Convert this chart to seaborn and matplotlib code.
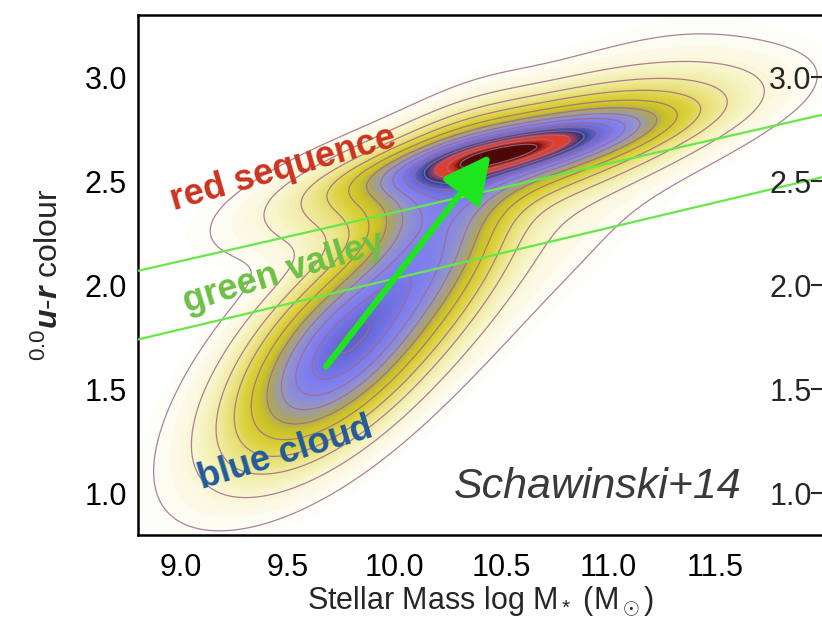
import numpy as np
import matplotlib
matplotlib.use("Agg")
import matplotlib.pyplot as plt
from matplotlib.colors import LinearSegmentedColormap
import seaborn as sns
import pandas as pd

# ---------------- data ----------------
# density components: centre, slope of major axis, widths, amplitude
comp_names = ["red core", "red halo", "blue cloud", "bridge", "envelope"]
comp_mx = [10.55, 10.55, 9.76, 10.20, 10.25]
comp_my = [2.645, 2.63, 1.70, 2.25, 2.10]
comp_slope = [0.22, 0.28, 1.05, 1.60, 0.85]
comp_sig_a = [0.38, 0.55, 0.38, 0.30, 0.85]
comp_sig_b = [0.065, 0.13, 0.18, 0.17, 0.24]
comp_amp = [0.55, 0.45, 0.62, 0.33, 0.06]

contour_levels = [0.012, 0.04, 0.085, 0.14, 0.21, 0.29, 0.37, 0.45, 0.53, 0.61, 0.69, 0.77, 0.85, 0.92]

# green valley boundaries (log M, u-r)
gv_x = [8.8, 12.0]
gv_upper = [2.07, 2.82]
gv_lower = [1.74, 2.52]

# arrow blue cloud -> red sequence
arrow_start = (9.68, 1.61)
arrow_end = (10.45, 2.63)

xticks = [9.0, 9.5, 10.0, 10.5, 11.0, 11.5]
yticks = [1.0, 1.5, 2.0, 2.5, 3.0]
xlim = (8.8, 12.0)
ylim = (0.8, 3.3)

# ---------------- style ----------------
sns.set_style("ticks")
plt.rcParams["font.family"] = ["Liberation Sans", "DejaVu Sans"]
plt.rcParams["mathtext.fontset"] = "custom"
plt.rcParams["mathtext.rm"] = "Liberation Sans"
plt.rcParams["mathtext.it"] = "Liberation Sans:italic"
plt.rcParams["mathtext.bf"] = "Liberation Sans:bold"
plt.rcParams["mathtext.bfit"] = "Liberation Sans:italic:bold"

fig = plt.figure(figsize=(8.22, 6.19), dpi=100)
ax = fig.add_axes([138 / 822, 84 / 619, 1 - 138 / 822, 520 / 619])

# ---------------- density field ----------------
gx = np.linspace(xlim[0], xlim[1], 420)
gy = np.linspace(ylim[0], ylim[1], 340)
X, Y = np.meshgrid(gx, gy)
Z = np.zeros_like(X)
for mx, my, s, sa, sb, a in zip(comp_mx, comp_my, comp_slope, comp_sig_a, comp_sig_b, comp_amp):
    n = np.hypot(1, s)
    dx, dy = X - mx, Y - my
    ua = (dx + s * dy) / n
    ub = (-s * dx + dy) / n
    Z += a * np.exp(-0.5 * ((ua / sa) ** 2 + (ub / sb) ** 2))
Z = Z / Z.max()

stops = [
    (0.00, "#ffffff"), (0.012, "#fefdf4"), (0.05, "#f7f4c8"), (0.11, "#ebe488"),
    (0.18, "#d9d03a"), (0.25, "#cbc226"), (0.31, "#aba462"), (0.37, "#9a9ab4"),
    (0.44, "#8888e4"), (0.52, "#7c7cf0"), (0.60, "#6a6ad8"), (0.66, "#4854b0"),
    (0.71, "#26397e"), (0.75, "#8a3a6a"), (0.79, "#dc4030"), (0.86, "#e23c28"),
    (0.90, "#b02818"), (0.92, "#560a08"), (1.00, "#4a0806"),
]
cmap = LinearSegmentedColormap.from_list("sch", stops)
ax.contourf(X, Y, Z, levels=np.linspace(0, 1.0001, 150), cmap=cmap, vmin=0, vmax=1, zorder=1)
ax.contour(X, Y, Z, levels=contour_levels, colors="#a06a88", linewidths=0.9, alpha=0.85, zorder=2)

# ---------------- green valley lines ----------------
gv_df = pd.DataFrame({"x": gv_x + gv_x, "y": gv_upper + gv_lower,
                      "line": ["upper"] * 2 + ["lower"] * 2})
sns.lineplot(data=gv_df, x="x", y="y", units="line", estimator=None,
             color="#66e84a", lw=1.6, ax=ax, zorder=3)

ax.annotate("", xy=arrow_end, xytext=arrow_start,
            arrowprops=dict(arrowstyle="-|>,head_length=1.3,head_width=0.65", color="#1ee61e",
                            lw=4.5, shrinkA=0, shrinkB=0, mutation_scale=22), zorder=5)

# ---------------- labels ----------------
ax.text(9.48, 2.56, "red sequence", color="#cc3320", fontsize=26, fontweight="bold",
        rotation=16, ha="center", va="center", rotation_mode="anchor", zorder=4)
ax.text(9.48, 2.06, "green valley", color="#6cc044", fontsize=26, fontweight="bold",
        rotation=17, ha="center", va="center", rotation_mode="anchor", zorder=4)
ax.text(9.49, 1.19, "blue cloud", color="#245a9a", fontsize=26, fontweight="bold",
        rotation=17, ha="center", va="center", rotation_mode="anchor", zorder=4)
ax.text(10.95, 1.03, "Schawinski+14", color="#3a3a3a", fontsize=31, fontstyle="italic",
        ha="center", va="center", zorder=4)

ax.set_xlim(*xlim)
ax.set_ylim(*ylim)
ax.set_xticks(xticks)
ax.set_yticks(yticks)
ax.set_xticklabels([f"{v:.1f}" for v in xticks])
ax.set_yticklabels([f"{v:.1f}" for v in yticks])
ax.tick_params(axis="y", direction="in", length=10, width=1.5, labelsize=22,
               right=False, pad=8, colors="black")
ax.tick_params(axis="x", direction="in", length=10, width=1.5, labelsize=22,
               top=True, pad=13, colors="black")
for sp in ["left", "top", "bottom"]:
    ax.spines[sp].set_linewidth(1.8)
    ax.spines[sp].set_color("black")
ax.spines["right"].set_visible(False)
ax.set_xlabel(r"Stellar Mass log M$_*$ (M$_\odot$)", fontsize=22, labelpad=1)
ax.set_ylabel(r"$^{0.0}\mathbfit{u}$-$\mathbfit{r}$ colour", fontsize=23, labelpad=14)

# second panel's axis (cut at the right edge)
ax2 = ax.twinx()
ax2.set_ylim(*ylim)
ax2.set_yticks(yticks)
ax2.set_yticklabels([f"{v:.1f}" for v in yticks])
ax2.tick_params(axis="y", direction="in", length=8, width=1.5, labelsize=22, pad=-38)
for sp in ["left", "top", "bottom", "right"]:
    ax2.spines[sp].set_visible(False)

fig.savefig("out.png", dpi=100)
